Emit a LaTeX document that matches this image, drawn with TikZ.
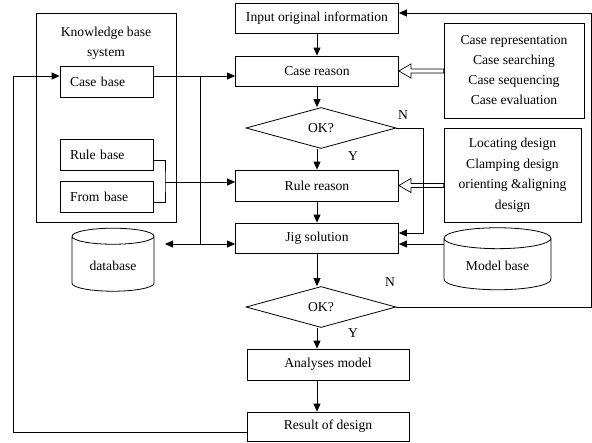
\documentclass[tikz,border=0pt]{standalone}
\usepackage{fontspec}
\setmainfont{Liberation Serif}
\usetikzlibrary{arrows.meta,shapes.geometric,calc}

\begin{document}
\begin{tikzpicture}[x=1pt,y=-1pt,line width=0.8pt,
  font=\fontsize{13.6}{15}\selectfont,
  box/.style={draw,rectangle,inner sep=2pt},
  basebox/.style={draw,rectangle,minimum height=31,text width=73,inner xsep=10,align=left},
  decide/.style={draw,diamond,minimum width=150,minimum height=41,inner sep=0pt},
  store/.style={draw,cylinder,shape border rotate=90,aspect=0.3,fill=white},
  arr/.style={-{Triangle[length=8pt,width=7pt]}}]
  \useasboundingbox (0,0) rectangle (592,442);

  % Knowledge base system
  \node[box,minimum width=140,minimum height=209] (kbs) at (106,117.5) {};
  \node[align=center,font=\fontsize{13.6}{20}\selectfont] (kbstitle) at (106,43) {Knowledge base\\system};
  \node[basebox] (casebase) at (106.5,81.5) {Case base};
  \node[basebox] (rulebase) at (106.5,154.5) {Rule base};
  \node[basebox] (frombase) at (106.5,196.5) {From base};

  % main column
  \node[box,minimum width=163,minimum height=30] (input) at (317,18) {Input original information};
  \node[box,minimum width=163,minimum height=30] (creason) at (317,71) {Case reason};
  \node[decide] (ok1) at (321,128) {OK?};
  \node[box,minimum width=163,minimum height=31] (rreason) at (317,185.5) {Rule reason};
  \node[box,minimum width=163,minimum height=30] (jig) at (317,238) {Jig solution};
  \node[decide] (ok2) at (321,307) {OK?};
  \node[box,minimum width=162,minimum height=31] (analyses) at (328,364.5) {Analyses model};
  \node[box,minimum width=162,minimum height=29] (result) at (328,426.5) {Result of design};

  % info boxes and stores
  \node[box,minimum width=140,minimum height=95,align=center,font=\fontsize{13.6}{20}\selectfont] (caseinfo) at (514,70.5)
    {Case representation\\Case searching\\Case sequencing\\Case evaluation};
  \node[box,minimum width=137,minimum height=94,align=center,font=\fontsize{13.6}{20.5}\selectfont] (locinfo) at (512.5,175)
    {Locating design\\Clamping design\\orienting \&aligning\\design};
  \node[store,minimum width=82,minimum height=63] (database) at (113,265.5) {database};
  \node[store,minimum width=107,minimum height=62] (modelbase) at (497.5,266) {Model base};

  % labels
  \node (n1) at (403,115) {N};
  \node (y1) at (353,156) {Y};
  \node (n2) at (390,282) {N};
  \node (y2) at (353,333) {Y};

  % helper points
  \coordinate (fbl) at (13,432);
  \coordinate (fbu) at (13,76);
  \coordinate (bus) at (200,244);
  \coordinate (dbtip) at (165,244);
  \coordinate (brk) at (165,182);
  \coordinate (nturn) at (423,233);
  \coordinate (edge) at (591,13);

  % main flow
  \draw[arr] (input) -- (creason);
  \draw[arr] (creason.south) -- (creason.south |- ok1.north);
  \draw[arr] (rreason.north |- ok1.south) -- (rreason.north);
  \draw[arr] (rreason) -- (jig);
  \draw[arr] (jig.south) -- (jig.south |- ok2.north);
  \draw[arr] (jig.south |- ok2.south) -- (jig.south |- analyses.north);
  \draw[arr] (jig.south |- analyses.south) -- (jig.south |- result.north);

  % loops back
  \draw[arr] (ok1.east) -| (nturn) -- (jig.east |- nturn);
  \draw[arr] (ok2.east) -- (edge |- ok2.east) -- (edge) -- (input.east |- edge);
  \draw[arr] (result.west |- fbl) -- (fbl) -- (fbu) -- (casebase.west |- fbu);

  % knowledge base links
  \draw[arr] (casebase.east |- fbu) -- (creason.west |- fbu);
  \draw (bus |- fbu) -- (bus);
  \draw[arr] (bus) -- (jig.west |- bus);
  \draw[arr] (bus) -- (dbtip);
  \draw ([yshift=-6]rulebase.east) -| (brk) |- ([yshift=-6]frombase.east);
  \draw[arr] (brk) -- (rreason.west |- brk);
  \draw[arr] (modelbase.west |- bus) -- (jig.east |- bus);

  % hollow arrows
  \draw[line width=0.7pt] (creason.east) -- ++(12,-7) -- ++(0,5) -- ($(caseinfo.west |- creason.east)+(0,-2)$)
    -- ++(0,4) -- ($(creason.east)+(12,2)$) -- ++(0,5) -- cycle;
  \draw[line width=0.7pt] (rreason.east) -- ++(12,-7) -- ++(0,5) -- ($(locinfo.west |- rreason.east)+(0,-2)$)
    -- ++(0,4) -- ($(rreason.east)+(12,2)$) -- ++(0,5) -- cycle;
\end{tikzpicture}
\end{document}
